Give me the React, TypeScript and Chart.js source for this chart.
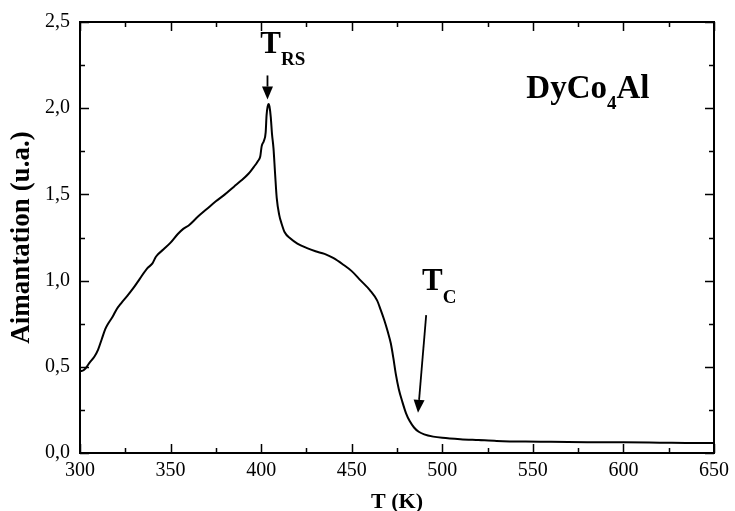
import React, { useEffect, useRef } from "react";
import { Chart, registerables } from "chart.js";

Chart.register(...registerables);

const tempK = [
  300, 301, 303, 305, 308, 310, 312, 314, 315.5, 318, 320, 322.8, 326, 329, 333, 337, 340, 342, 346, 350,
  354, 357, 360, 365, 370, 375, 380, 385, 389, 393, 396, 398, 399.5, 400.3, 401.5, 402.5, 403, 403.6, 404.1,
  404.6, 405.3, 406, 406.8, 407.7, 408.6, 410, 411.3, 413, 416, 420, 425, 430, 435, 440, 445, 450, 455, 460,
  464, 466, 468, 470, 471.6, 473, 474.3, 476, 478, 480, 482, 484.4, 487, 490, 495, 500, 510, 520, 530, 546,
  560, 580, 600, 620, 640, 650,
];
const magnet = [
  0.48, 0.475, 0.49, 0.52, 0.56, 0.6, 0.66, 0.72, 0.75, 0.79, 0.83, 0.87, 0.91, 0.95, 1.01, 1.07, 1.1, 1.14,
  1.18, 1.22, 1.27, 1.3, 1.32, 1.37, 1.415, 1.46, 1.5, 1.545, 1.58, 1.62, 1.66, 1.69, 1.72, 1.78, 1.81, 1.86,
  1.96, 2.01, 2.025, 2.01, 1.95, 1.85, 1.77, 1.62, 1.48, 1.38, 1.33, 1.28, 1.245, 1.215, 1.19, 1.17, 1.155,
  1.13, 1.095, 1.055, 1.0, 0.945, 0.885, 0.83, 0.77, 0.7, 0.635, 0.55, 0.46, 0.37, 0.295, 0.23, 0.185, 0.148,
  0.123, 0.108, 0.095, 0.088, 0.08, 0.075, 0.07, 0.066, 0.065, 0.063, 0.062, 0.06, 0.058, 0.058,
];

const xMajorTicks = [300, 350, 400, 450, 500, 550, 600, 650];
const xMinorTicks = [325, 375, 425, 475, 525, 575, 625];
const yMajorTicks = [0, 0.5, 1.0, 1.5, 2.0, 2.5];
const yMinorTicks = [0.25, 0.75, 1.25, 1.75, 2.25];

const xTitle = "T (K)";
const yTitle = "Aimantation (u.a.)";

type Part = { text: string; size: number; dy: number };
type RichLabel = { x: number; y: number; parts: Part[] };

const richLabels: RichLabel[] = [
  { x: 399.5, y: 2.32, parts: [{ text: "T", size: 31, dy: 0 }, { text: "RS", size: 19, dy: 12 }] },
  { x: 488.8, y: 0.943, parts: [{ text: "T", size: 31, dy: 0 }, { text: "C", size: 19, dy: 13 }] },
  {
    x: 546.4,
    y: 2.06,
    parts: [
      { text: "DyCo", size: 33, dy: 0 },
      { text: "4", size: 19, dy: 11 },
      { text: "Al", size: 33, dy: 0 },
    ],
  },
];

const arrows = [
  { x1: 403.5, y1: 2.19, x2: 403.5, y2: 2.05 },
  { x1: 491.1, y1: 0.8, x2: 486.6, y2: 0.233 },
];

const FONT = "'Liberation Serif', 'Times New Roman', serif";

const framePlugin = {
  id: "framePlugin",
  afterDraw(chart: any) {
    const { ctx, chartArea } = chart;
    const xs = chart.scales.x;
    const ys = chart.scales.y;
    const { left, right, top, bottom } = chartArea;
    ctx.save();
    ctx.strokeStyle = "#000";
    ctx.fillStyle = "#000";
    ctx.lineWidth = 2;
    ctx.strokeRect(left, top, right - left, bottom - top);
    ctx.lineWidth = 1.5;
    const major = 9;
    const minor = 5;
    const drawX = (v: number, len: number) => {
      const p = Math.round(xs.getPixelForValue(v)) + 0.5;
      ctx.beginPath();
      ctx.moveTo(p, bottom);
      ctx.lineTo(p, bottom - len);
      ctx.moveTo(p, top);
      ctx.lineTo(p, top + len);
      ctx.stroke();
    };
    const drawY = (v: number, len: number) => {
      const p = Math.round(ys.getPixelForValue(v)) + 0.5;
      ctx.beginPath();
      ctx.moveTo(left, p);
      ctx.lineTo(left + len, p);
      ctx.moveTo(right, p);
      ctx.lineTo(right - len, p);
      ctx.stroke();
    };
    xMajorTicks.forEach((v) => drawX(v, major));
    xMinorTicks.forEach((v) => drawX(v, minor));
    yMajorTicks.forEach((v) => drawY(v, major));
    yMinorTicks.forEach((v) => drawY(v, minor));

    arrows.forEach((a) => {
      const x1 = xs.getPixelForValue(a.x1);
      const y1 = ys.getPixelForValue(a.y1);
      const x2 = xs.getPixelForValue(a.x2);
      const y2 = ys.getPixelForValue(a.y2);
      const ang = Math.atan2(y2 - y1, x2 - x1);
      const headLen = 13;
      const headW = 5.5;
      const bx = x2 - headLen * Math.cos(ang);
      const by = y2 - headLen * Math.sin(ang);
      ctx.lineWidth = 1.8;
      ctx.beginPath();
      ctx.moveTo(x1, y1);
      ctx.lineTo(bx, by);
      ctx.stroke();
      ctx.beginPath();
      ctx.moveTo(x2, y2);
      ctx.lineTo(bx + headW * Math.sin(ang), by - headW * Math.cos(ang));
      ctx.lineTo(bx - headW * Math.sin(ang), by + headW * Math.cos(ang));
      ctx.closePath();
      ctx.fill();
    });

    ctx.textAlign = "left";
    ctx.textBaseline = "alphabetic";
    richLabels.forEach((lab) => {
      let x = xs.getPixelForValue(lab.x);
      const y = ys.getPixelForValue(lab.y);
      lab.parts.forEach((p) => {
        ctx.font = `bold ${p.size}px ${FONT}`;
        ctx.fillText(p.text, x, y + p.dy);
        x += ctx.measureText(p.text).width;
      });
    });
    ctx.restore();
  },
};

export default function App() {
  const canvasRef = useRef<HTMLCanvasElement | null>(null);

  useEffect(() => {
    if (!canvasRef.current) return;
    const data = tempK.map((t, i) => ({ x: t, y: magnet[i] }));
    const chart = new Chart(canvasRef.current, {
      type: "line",
      data: {
        datasets: [
          {
            data,
            borderColor: "#000",
            borderWidth: 2,
            pointRadius: 0,
            cubicInterpolationMode: "monotone",
            fill: false,
          },
        ],
      },
      options: {
        animation: false,
        responsive: true,
        maintainAspectRatio: false,
        layout: { padding: { top: 21, right: 16, left: 0, bottom: 0 } },
        plugins: { legend: { display: false }, tooltip: { enabled: false } },
        scales: {
          x: {
            type: "linear",
            min: 300,
            max: 650,
            grid: { display: false, drawTicks: false },
            border: { display: false },
            afterBuildTicks: (s: any) => {
              s.ticks = xMajorTicks.map((v) => ({ value: v }));
            },
            afterFit: (s: any) => {
              s.height = 58;
            },
            ticks: {
              color: "#000",
              padding: 6,
              maxRotation: 0,
              font: { family: FONT, size: 20 },
              callback: (v: any) => String(v),
            },
            title: {
              display: true,
              text: xTitle,
              color: "#000",
              font: { family: FONT, size: 22, weight: "bold", lineHeight: 0.8 },
              padding: { top: 0, bottom: 0 },
            },
          },
          y: {
            type: "linear",
            min: 0,
            max: 2.5,
            grid: { display: false, drawTicks: false },
            border: { display: false },
            afterBuildTicks: (s: any) => {
              s.ticks = yMajorTicks.map((v) => ({ value: v }));
            },
            afterFit: (s: any) => {
              s.width = 80;
            },
            ticks: {
              color: "#000",
              padding: 10,
              font: { family: FONT, size: 20 },
              callback: (v: any) => Number(v).toFixed(1).replace(".", ","),
            },
            title: {
              display: true,
              text: yTitle,
              color: "#000",
              font: { family: FONT, size: 27, weight: "bold", lineHeight: 1 },
              padding: { top: 9, bottom: 0 },
            },
          },
        },
      },
      plugins: [framePlugin],
    });
    return () => chart.destroy();
  }, []);

  return (
    <div style={{ position: "fixed", left: 0, top: 0, width: 735, height: 511, background: "#fff" }}>
      <canvas ref={canvasRef} />
    </div>
  );
}
